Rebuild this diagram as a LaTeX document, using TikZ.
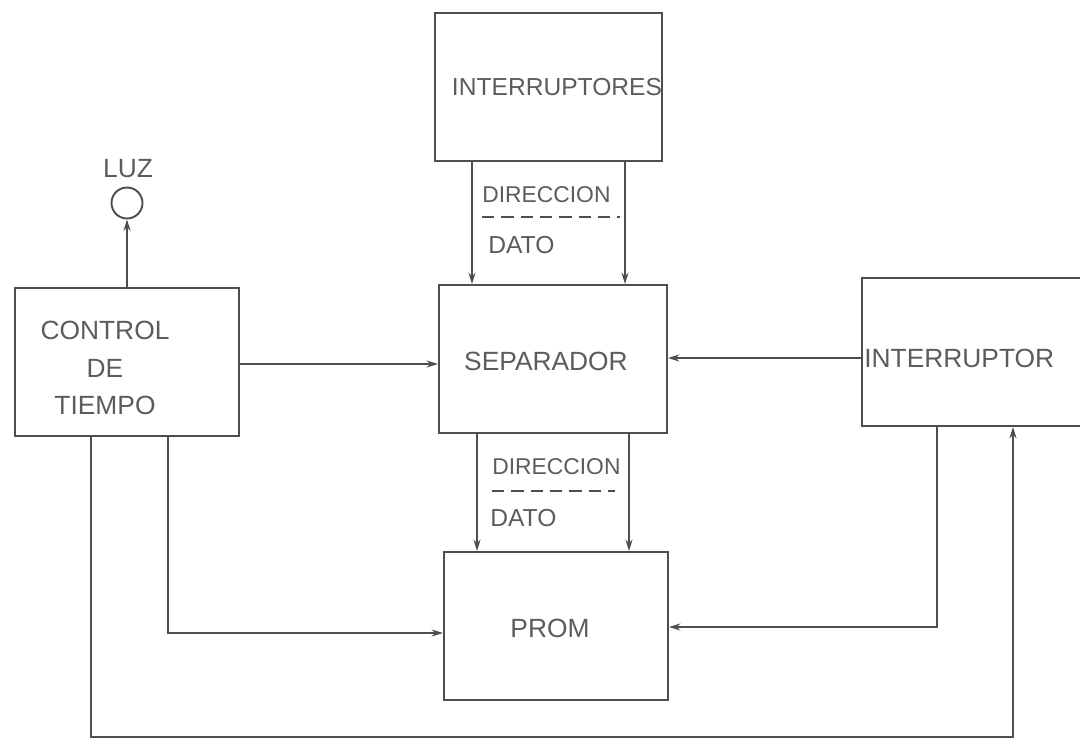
\documentclass[tikz,border=0pt]{standalone}
\usepackage{fontspec}
\setmainfont{Liberation Sans}
\usetikzlibrary{arrows.meta,calc}

\definecolor{blk@line}{RGB}{78,78,78}
\definecolor{blk@text}{RGB}{92,92,92}

\begin{document}
\begin{tikzpicture}[x=0.02cm, y=-0.02cm, font=\fontsize{15}{21.5}\selectfont, text=blk@text,
    blk/.style={draw=blk@line, line width=1.1pt, inner sep=0pt,
                minimum width=4.5cm, minimum height=2.96cm},
    wire/.style={draw=blk@line, line width=0.9pt, -{Stealth[length=6.5pt, width=4pt]}},
    busline/.style={draw=blk@line, line width=1pt, dash pattern=on 7pt off 4pt},
    buslbl/.style={anchor=west, inner sep=0pt, font=\fontsize{13}{15}\selectfont}]

  % Bounding box = scan window (1080 x 744 px, 1 px = 0.02 cm, y down)
  \path[use as bounding box] (0,0) rectangle (1080,744);
  \clip (0,0) rectangle (1080,744);

  % ---- BLOCKS ----
  \node[blk, minimum width=4.54cm] (switches) at (548.5,87) {};
  \node[blk, minimum width=4.56cm] (sep) at (553,359) {};
  \node[blk, minimum width=4.48cm] (ctrl) at (127,362) {};
  \node[blk, minimum width=4.72cm] (intr) at (980,352) {};
  \node[blk, minimum width=4.48cm] (prom) at (556,626) {};
  \node[draw=blk@line, line width=1.1pt, circle, inner sep=0pt, minimum size=0.62cm]
    (lamp) at (127,203) {};

  % Texts sit a little off the block centres, as lettered on the sheet
  \node[inner sep=0pt, font=\fontsize{14}{16}\selectfont] (switchestxt) at (557,87) {INTERRUPTORES};
  \node[inner sep=0pt] (septxt) at (546,361) {SEPARADOR};
  \node[inner sep=0pt] (promtxt) at (550,628) {PROM};
  \node[align=center, inner sep=0pt] (ctrltxt) at (105,368) {CONTROL\\DE\\TIEMPO};
  \node[anchor=west, inner sep=0pt] (intrtxt) at (864,358) {INTERRUPTOR};
  \node[inner sep=0pt] (lamptxt) at (128,169) {LUZ};

  % ---- BUSES (address / data) ----
  \foreach \dx in {-76.5,76.5} {
    \draw[wire] ($(switches.south)+(\dx,0)$) coordinate (tmp) -- (tmp |- sep.north);
  }
  \foreach \dx in {-76,76} {
    \draw[wire] ($(sep.south)+(\dx,0)$) coordinate (tmp) -- (tmp |- prom.north);
  }
  \node[buslbl] (addrA) at (482,195) {DIRECCION};
  \draw[busline] (482,217) -- (620,217);
  \node[buslbl, font=\fontsize{14}{16}\selectfont] (dataA) at (488,245) {DATO};
  \node[buslbl] (addrB) at (492,467) {DIRECCION};
  \draw[busline] (492,491) -- (615,491);
  \node[buslbl, font=\fontsize{14}{16}\selectfont] (dataB) at (490,518) {DATO};

  % ---- CONTROL LINES ----
  \draw[wire] (ctrl.north) -- (lamp.south);
  \draw[wire] ($(ctrl.east)+(0,2)$) coordinate (tmp) -- (tmp -| sep.west);
  \draw[wire] ($(intr.west)+(0,6)$) coordinate (tmp) -- (tmp -| sep.east);
  \draw[wire] ($(ctrl.south)+(41,0)$) |- ($(prom.west)+(0,7)$);
  \draw[wire] ($(intr.south)+(-43,0)$) |- ($(prom.east)+(0,1)$);
  % long return path under everything
  \draw[wire] ($(ctrl.south)+(-36,0)$) -- ++(0,300) -| ($(intr.south)+(33,0)$);
\end{tikzpicture}
\end{document}
